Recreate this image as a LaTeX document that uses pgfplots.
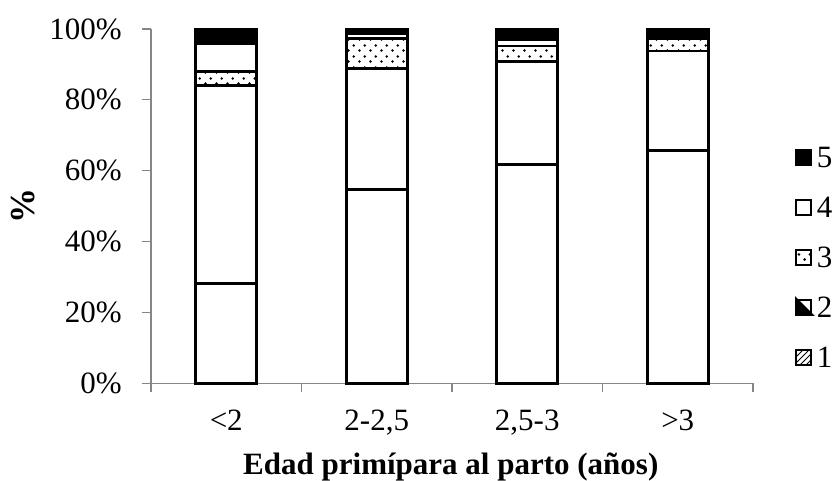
\documentclass[border=0pt]{standalone}
\usepackage{fontspec}
\setmainfont{Liberation Serif}
\usepackage{pgfplots}
\pgfplotsset{compat=1.18}
\usetikzlibrary{patterns}
\pgfdeclarepatternformonly{sparsedots}{\pgfqpoint{0pt}{0pt}}{\pgfqpoint{5.35pt}{5.2pt}}{\pgfqpoint{5.35pt}{5.2pt}}{%
  \pgfpathcircle{\pgfqpoint{1.3pt}{1.3pt}}{0.75pt}%
  \pgfpathcircle{\pgfqpoint{3.975pt}{3.9pt}}{0.75pt}%
  \pgfusepath{fill}}
\definecolor{axgray}{RGB}{134,134,134}

\pgfplotstableread{
x y
0 28.2
1 54.6
2 61.7
3 65.8
}\sone
\pgfplotstableread{
x y
0 55.9
1 34.3
2 29.2
3 28.0
}\stwo
\pgfplotstableread{
x y
0 4.0
1 8.5
2 4.3
3 3.6
}\sthree
\pgfplotstableread{
x y
0 7.8
1 1.4
2 1.9
3 0.0
}\sfour
\pgfplotstableread{
x y
0 4.1
1 1.2
2 2.9
3 2.6
}\sfive

\begin{document}
\begin{tikzpicture}
\useasboundingbox (0,0) rectangle (418pt,240.5pt);
\begin{axis}[
  at={(75.5pt,48.85pt)}, anchor=south west,
  scale only axis, width=301pt, height=177.15pt,
  ybar stacked, bar width=30.5pt,
  xmin=-0.5, xmax=3.5, ymin=0, ymax=100,
  clip=false,
  axis x line=bottom, axis y line=left,
  axis line style={-, axgray, line width=0.6pt},
  tick style={axgray, line width=0.6pt},
  tick align=outside, major tick length=4.5pt,
  font=\fontsize{15.5}{18}\selectfont,
  ytick={0,20,40,60,80,100},
  yticklabels={0\%,20\%,40\%,60\%,80\%,100\%},
  yticklabel style={anchor=east, inner sep=0pt, xshift=-10pt},
  xtick={-0.5,0.5,1.5,2.5,3.5},
  xticklabels={},
  extra x ticks={0,1,2,3},
  extra x tick labels={{<2},{2-2,5},{2,5-3},{>3}},
  extra x tick style={major tick length=0pt,
     xticklabel style={anchor=base, inner sep=0pt, yshift=-23.85pt}},
  xlabel={\bfseries Edad primípara al parto (años)},
  xlabel style={at={(axis description cs:0.498,-0.2588)}, anchor=base, inner sep=0pt, font=\fontsize{15.5}{18}\selectfont},
  ylabel={\bfseries \%},
  ylabel style={at={(axis description cs:-0.212,0.501)}, anchor=center, inner sep=0pt, font=\fontsize{17.5}{20}\selectfont},
  reverse legend,
  legend cell align=left,
  legend style={at={(axis description cs:1.0698,0.7093)}, anchor=north west,
     draw=none, fill=none, inner sep=0pt, outer sep=0pt, row sep=0pt, column sep=2pt,
     font=\fontsize{15.5}{18}\selectfont,
     nodes={inner sep=0pt, text height=17.74pt, text depth=7.26pt}},
]
\addplot[fill=white, draw=black, line width=1.4pt,
  legend image code/.code={\draw[black, line width=1pt, pattern=north east lines] (0.5pt,-3.8pt) rectangle (8pt,3.7pt);}]
  table[x=x,y=y]{\sone};
\addlegendentry{1}
\addplot[fill=white, draw=black, line width=1.4pt,
  legend image code/.code={%
     \path[fill=black] (0.5pt,3.7pt) -- (0.5pt,-3.8pt) -- (8pt,-3.8pt) -- cycle;
     \path[draw=black, line width=1pt, fill=none] (0.5pt,-3.8pt) rectangle (8pt,3.7pt);}]
  table[x=x,y=y]{\stwo};
\addlegendentry{2}
\addplot[pattern=sparsedots, pattern color=black, draw=black, line width=1.4pt,
  legend image code/.code={\draw[black, line width=1pt, pattern=sparsedots] (0.5pt,-3.8pt) rectangle (8pt,3.7pt);}]
  table[x=x,y=y]{\sthree};
\addlegendentry{3}
\addplot[fill=white, draw=black, line width=1.4pt,
  legend image code/.code={\draw[black, fill=white, line width=1pt] (0.5pt,-3.8pt) rectangle (8pt,3.7pt);}]
  table[x=x,y=y]{\sfour};
\addlegendentry{4}
\addplot[fill=black, draw=black, line width=1.4pt,
  legend image code/.code={\filldraw[black, line width=1pt] (0.5pt,-3.8pt) rectangle (8pt,3.7pt);}]
  table[x=x,y=y]{\sfive};
\addlegendentry{5}
\end{axis}
\end{tikzpicture}
\end{document}
